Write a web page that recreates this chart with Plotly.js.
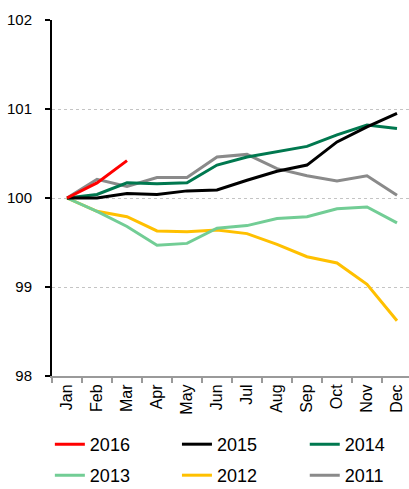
<!DOCTYPE html>
<html>
<head>
<meta charset="utf-8">
<script src="https://cdn.plot.ly/plotly-3.0.1.min.js"></script>
<style>html,body{margin:0;padding:0;background:#fff;}#chart{width:409px;height:489px;}</style>
</head>
<body>
<div id="chart"></div>
<script>
const months = ["Jan","Feb","Mar","Apr","May","Jun","Jul","Aug","Sep","Oct","Nov","Dec"];
const y2016 = [100, 100.17, 100.42];
const y2015 = [100, 100.0, 100.05, 100.04, 100.08, 100.09, 100.2, 100.3, 100.37, 100.63, 100.8, 100.95];
const y2014 = [100, 100.04, 100.17, 100.16, 100.17, 100.37, 100.46, 100.52, 100.58, 100.71, 100.82, 100.78];
const y2013 = [100, 99.85, 99.68, 99.47, 99.49, 99.66, 99.69, 99.77, 99.79, 99.88, 99.9, 99.72];
const y2012 = [100, 99.85, 99.79, 99.63, 99.62, 99.64, 99.6, 99.48, 99.34, 99.27, 99.03, 98.62];
const y2011 = [100, 100.21, 100.13, 100.23, 100.23, 100.46, 100.49, 100.33, 100.25, 100.19, 100.25, 100.03];
const yTicks = [98, 99, 100, 101, 102];

const FONT = '"Liberation Sans", Arial, sans-serif';

function tr(name, y, color, legend) {
  return {
    type: 'scatter', mode: 'lines', name: name,
    x: months.slice(0, y.length), y: y,
    line: {color: color, width: 3},
    legend: legend
  };
}

const data = [
  tr('2011', y2011, '#8A8A8A', 'legend6'),
  tr('2012', y2012, '#FFC000', 'legend5'),
  tr('2013', y2013, '#72CD95', 'legend4'),
  tr('2014', y2014, '#00784F', 'legend3'),
  tr('2015', y2015, '#000000', 'legend2'),
  tr('2016', y2016, '#FF0000', 'legend')
];

function leg(x, y) {
  return {
    x: x, y: y, orientation: 'h', xanchor: 'left', yanchor: 'top',
    font: {family: FONT, size: 18, color: '#000'},
    bgcolor: 'rgba(0,0,0,0)', borderwidth: 0
  };
}
const col = [-0.006, 0.350, 0.708];
const row = [-0.1404, -0.2275];

const layout = {
  width: 409, height: 489,
  margin: {l: 52, r: 0, t: 20, b: 113, autoexpand: false},
  paper_bgcolor: '#fff', plot_bgcolor: '#fff',
  font: {family: FONT, size: 16, color: '#000'},
  xaxis: {
    type: 'category', categoryarray: months, range: [-0.5, 11.4],
    tickson: 'boundaries', ticks: 'outside', ticklen: 5, tickwidth: 1.5, tickcolor: '#9A9A9A',
    showline: true, linecolor: '#9A9A9A', linewidth: 2,
    showgrid: false, tickangle: -90,
    tickfont: {family: FONT, size: 16, color: '#000'}
  },
  yaxis: {
    range: [98, 102], tickvals: yTicks, ticktext: yTicks.map(String),
    ticks: 'outside', ticklen: 5, tickwidth: 1.5, tickcolor: '#000',
    showline: true, linecolor: '#000', linewidth: 2,
    showgrid: true, gridcolor: '#C4C4C4', gridwidth: 1, griddash: 'dot',
    zeroline: false, ticklabelstandoff: 10,
    tickfont: {family: FONT, size: 15, color: '#000'}
  },
  showlegend: true,
  legend: leg(col[0], row[0]),
  legend2: leg(col[1], row[0]),
  legend3: leg(col[2], row[0]),
  legend4: leg(col[0], row[1]),
  legend5: leg(col[1], row[1]),
  legend6: leg(col[2], row[1])
};

Plotly.newPlot('chart', data, layout, {displayModeBar: false, staticPlot: true});
</script>
</body>
</html>
